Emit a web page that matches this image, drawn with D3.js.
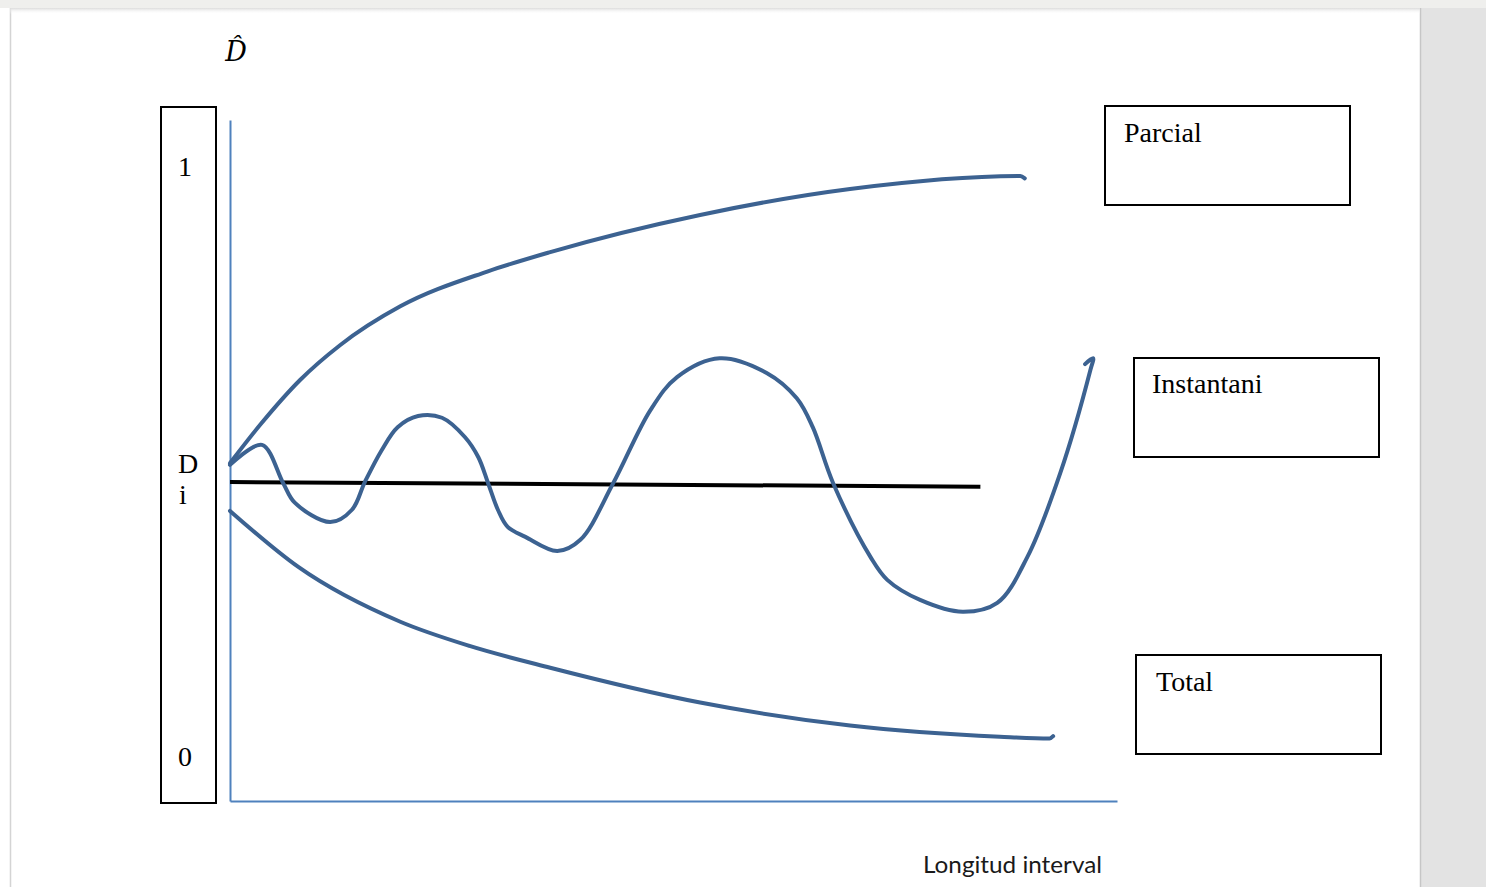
<!DOCTYPE html>
<html>
<head>
<meta charset="utf-8">
<script src="https://cdn.jsdelivr.net/npm/d3@7"></script>
<style>
  html, body { margin: 0; padding: 0; background: #ffffff; }
  svg { display: block; }
</style>
</head>
<body>
<script>
// ---- data (x in interval-length units 0..10, y in D units 0..1) ----
const parcialX = [0, 0.34, 0.79, 1.24, 1.92, 2.90, 3.61, 5.30, 6.99, 8.91, 8.96];
const parcialY = [0.498, 0.563, 0.639, 0.698, 0.764, 0.823, 0.856, 0.919, 0.963, 0.985, 0.981];

const instantX = [0, 0.36, 0.60, 0.73, 1.13, 1.375, 1.52, 1.71, 1.89, 2.12, 2.39, 2.65, 2.80, 2.91, 3.02, 3.13, 3.33, 3.69, 3.95, 4.32, 4.74, 5.04, 5.52, 6.05, 6.39, 6.57, 6.80, 7.22, 7.41, 7.78, 8.26, 8.65, 8.99, 9.36, 9.70, 9.73, 9.64];
const instantY = [0.495, 0.529, 0.464, 0.431, 0.398, 0.419, 0.466, 0.520, 0.559, 0.578, 0.575, 0.542, 0.508, 0.464, 0.419, 0.390, 0.373, 0.349, 0.368, 0.464, 0.588, 0.644, 0.676, 0.651, 0.608, 0.559, 0.464, 0.339, 0.300, 0.266, 0.246, 0.261, 0.339, 0.481, 0.656, 0.676, 0.666];

const totalX = [0, 0.77, 1.92, 2.70, 3.61, 5.30, 6.99, 8.68, 9.24, 9.28];
const totalY = [0.417, 0.322, 0.229, 0.188, 0.151, 0.092, 0.053, 0.034, 0.031, 0.035];

const meanX = [0, 8.46];
const meanY = [0.466, 0.458];

const tickValues = [1, 0];
const tickLabels = ["1", "0"];
const diValue = 0.5;
const diLabels = ["D", "i"];

const legendLabels = ["Parcial", "Instantani", "Total"];
const xTitle = "Longitud interval";
const yTitle = "D\u0302";

// ---- layout ----
const W = 1486, H = 887;
const svg = d3.select("body").append("svg").attr("width", W).attr("height", H);

// page chrome
svg.append("rect").attr("x", 0).attr("y", 0).attr("width", W).attr("height", H).attr("fill", "#ffffff");
svg.append("rect").attr("x", 1420).attr("y", 0).attr("width", W - 1420).attr("height", H).attr("fill", "#e3e3e3");
svg.append("line").attr("x1", 1420.5).attr("x2", 1420.5).attr("y1", 0).attr("y2", H).attr("stroke", "#c6c6c6").attr("stroke-width", 1.5);
svg.append("line").attr("x1", 10.5).attr("x2", 10.5).attr("y1", 8).attr("y2", H).attr("stroke", "#d4d4d4").attr("stroke-width", 1.5);
const grad = svg.append("defs").append("linearGradient").attr("id", "topshade").attr("x1", 0).attr("x2", 0).attr("y1", 0).attr("y2", 1);
grad.append("stop").attr("offset", "0%").attr("stop-color", "#dcdcdc");
grad.append("stop").attr("offset", "100%").attr("stop-color", "#ffffff").attr("stop-opacity", 0);
svg.append("rect").attr("x", 0).attr("y", 0).attr("width", W).attr("height", 8).attr("fill", "#efefed");
svg.append("rect").attr("x", 10).attr("y", 8).attr("width", 1410).attr("height", 6).attr("fill", "url(#topshade)");

// scales
const x = d3.scaleLinear().domain([0, 10]).range([230, 1117]);
const y = d3.scaleLinear().domain([-0.075, 1.08]).range([801, 120]);

// axes (no ticks, blue)
const axColor = "#4f81bd";
const gy = svg.append("g").attr("transform", `translate(${x(0)},0)`)
  .call(d3.axisLeft(y).tickValues([]).tickSizeOuter(0));
gy.select(".domain").attr("stroke", axColor).attr("stroke-width", 2);
const gx = svg.append("g").attr("transform", `translate(0,${y(-0.075)})`)
  .call(d3.axisBottom(x).tickValues([]).tickSizeOuter(0));
gx.select(".domain").attr("stroke", axColor).attr("stroke-width", 2);

// left label box
svg.append("rect").attr("x", 161).attr("y", 107).attr("width", 55).attr("height", 696)
  .attr("fill", "none").attr("stroke", "#000").attr("stroke-width", 2);
const serif = "'Liberation Serif', 'Times New Roman', serif";
svg.selectAll("text.tick").data(tickValues).enter().append("text")
  .attr("class", "tick")
  .attr("x", 185).attr("y", d => y(d) + 9)
  .attr("text-anchor", "middle").attr("font-family", serif).attr("font-size", 28).attr("fill", "#000")
  .text((d, i) => tickLabels[i]);
svg.append("text").attr("x", 188).attr("y", y(diValue) + 11).attr("text-anchor", "middle")
  .attr("font-family", serif).attr("font-size", 28).attr("fill", "#000").text(diLabels[0]);
svg.append("text").attr("x", 183).attr("y", y(diValue) + 42).attr("text-anchor", "middle")
  .attr("font-family", serif).attr("font-size", 28).attr("fill", "#000").text(diLabels[1]);

// y title (D hat)
svg.append("text").attr("x", 236).attr("y", 61).attr("text-anchor", "middle")
  .attr("font-family", "'DejaVu Serif', serif").attr("font-style", "italic").attr("font-size", 27).attr("fill", "#000")
  .text(yTitle);

// x title
svg.append("text").attr("x", 923).attr("y", 873)
  .attr("font-family", "Lato, 'Open Sans', sans-serif").attr("font-size", 23).attr("fill", "#1a1a1a")
  .attr("textLength", 179).attr("lengthAdjust", "spacingAndGlyphs")
  .text(xTitle);

// curves
const smooth = d3.line().x(d => x(d[0])).y(d => y(d[1])).curve(d3.curveMonotoneX);
const wave = d3.line().x(d => x(d[0])).y(d => y(d[1])).curve(d3.curveCatmullRom.alpha(0.5));
const straight = d3.line().x(d => x(d[0])).y(d => y(d[1]));
const curveColor = "#3c6291";

svg.append("path").datum(d3.zip(meanX, meanY)).attr("d", straight)
  .attr("fill", "none").attr("stroke", "#000").attr("stroke-width", 4);

const series = [
  { pts: d3.zip(parcialX, parcialY), gen: smooth },
  { pts: d3.zip(instantX, instantY), gen: wave },
  { pts: d3.zip(totalX, totalY), gen: smooth }
];
svg.selectAll("path.curve").data(series).enter().append("path")
  .attr("class", "curve").attr("d", d => d.gen(d.pts))
  .attr("fill", "none").attr("stroke", curveColor).attr("stroke-width", 4)
  .attr("stroke-linecap", "round").attr("stroke-linejoin", "round");

// legend boxes
const boxes = [
  { x: 1105, y: 106, tx: 1124, ty: 142 },
  { x: 1134, y: 358, tx: 1152, ty: 393 },
  { x: 1136, y: 655, tx: 1156, ty: 691 }
];
const lg = svg.selectAll("g.legend").data(legendLabels).enter().append("g").attr("class", "legend");
lg.append("rect").attr("x", (d, i) => boxes[i].x).attr("y", (d, i) => boxes[i].y)
  .attr("width", 245).attr("height", 99)
  .attr("fill", "#fff").attr("stroke", "#000").attr("stroke-width", 2);
lg.append("text").attr("x", (d, i) => boxes[i].tx).attr("y", (d, i) => boxes[i].ty)
  .attr("font-family", serif).attr("font-size", 28).attr("fill", "#000")
  .text(d => d);
</script>
</body>
</html>
